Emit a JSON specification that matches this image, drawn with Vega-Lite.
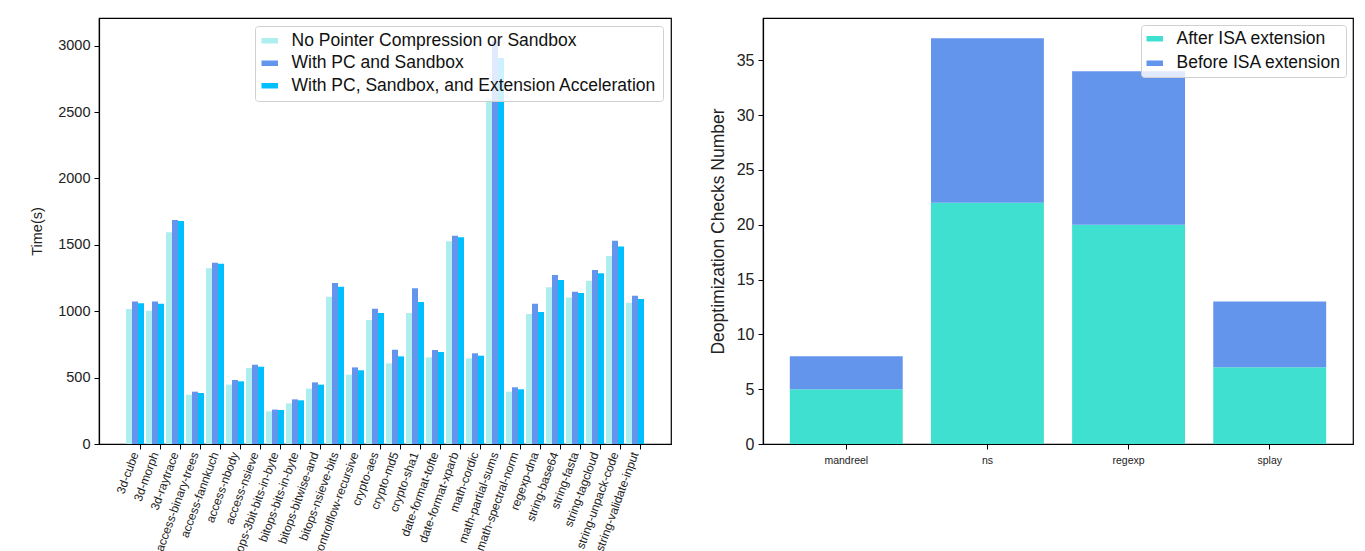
{
  "$schema": "https://vega.github.io/schema/vega-lite/v6.json",
  "padding": {"left": 29, "top": 17, "right": 5, "bottom": 0},
  "background": "white",
  "config": {
    "font": "Liberation Sans",
    "view": {"stroke": "black", "strokeWidth": 1.2},
    "axis": {
      "domainColor": "black", "tickColor": "black", "labelColor": "#222", "titleColor": "#222",
      "titleFontWeight": "normal", "grid": false, "tickSize": 5, "labelPadding": 4, "domainWidth": 1.2
    }
  },
  "resolve": {"scale": {"color": "independent"}, "legend": {"color": "independent"}},
  "bounds": "flush",
  "spacing": 92,
  "hconcat": [
    {
      "width": 572,
      "height": 426,
      "data": {"values": [
        {"b":"3d-cube","s":"No Pointer Compression or Sandbox","v":1017},{"b":"3d-cube","s":"With PC and Sandbox","v":1074},{"b":"3d-cube","s":"With PC, Sandbox, and Extension Acceleration","v":1059},
        {"b":"3d-morph","s":"No Pointer Compression or Sandbox","v":1004},{"b":"3d-morph","s":"With PC and Sandbox","v":1074},{"b":"3d-morph","s":"With PC, Sandbox, and Extension Acceleration","v":1057},
        {"b":"3d-raytrace","s":"No Pointer Compression or Sandbox","v":1594},{"b":"3d-raytrace","s":"With PC and Sandbox","v":1687},{"b":"3d-raytrace","s":"With PC, Sandbox, and Extension Acceleration","v":1679},
        {"b":"access-binary-trees","s":"No Pointer Compression or Sandbox","v":371},{"b":"access-binary-trees","s":"With PC and Sandbox","v":394},{"b":"access-binary-trees","s":"With PC, Sandbox, and Extension Acceleration","v":384},
        {"b":"access-fannkuch","s":"No Pointer Compression or Sandbox","v":1323},{"b":"access-fannkuch","s":"With PC and Sandbox","v":1365},{"b":"access-fannkuch","s":"With PC, Sandbox, and Extension Acceleration","v":1358},
        {"b":"access-nbody","s":"No Pointer Compression or Sandbox","v":447},{"b":"access-nbody","s":"With PC and Sandbox","v":482},{"b":"access-nbody","s":"With PC, Sandbox, and Extension Acceleration","v":472},
        {"b":"access-nsieve","s":"No Pointer Compression or Sandbox","v":572},{"b":"access-nsieve","s":"With PC and Sandbox","v":597},{"b":"access-nsieve","s":"With PC, Sandbox, and Extension Acceleration","v":582},
        {"b":"bitops-3bit-bits-in-byte","s":"No Pointer Compression or Sandbox","v":246},{"b":"bitops-3bit-bits-in-byte","s":"With PC and Sandbox","v":259},{"b":"bitops-3bit-bits-in-byte","s":"With PC, Sandbox, and Extension Acceleration","v":256},
        {"b":"bitops-bits-in-byte","s":"No Pointer Compression or Sandbox","v":306},{"b":"bitops-bits-in-byte","s":"With PC and Sandbox","v":336},{"b":"bitops-bits-in-byte","s":"With PC, Sandbox, and Extension Acceleration","v":329},
        {"b":"bitops-bitwise-and","s":"No Pointer Compression or Sandbox","v":417},{"b":"bitops-bitwise-and","s":"With PC and Sandbox","v":464},{"b":"bitops-bitwise-and","s":"With PC, Sandbox, and Extension Acceleration","v":447},
        {"b":"bitops-nsieve-bits","s":"No Pointer Compression or Sandbox","v":1109},{"b":"bitops-nsieve-bits","s":"With PC and Sandbox","v":1212},{"b":"bitops-nsieve-bits","s":"With PC, Sandbox, and Extension Acceleration","v":1185},
        {"b":"controlflow-recursive","s":"No Pointer Compression or Sandbox","v":522},{"b":"controlflow-recursive","s":"With PC and Sandbox","v":577},{"b":"controlflow-recursive","s":"With PC, Sandbox, and Extension Acceleration","v":555},
        {"b":"crypto-aes","s":"No Pointer Compression or Sandbox","v":934},{"b":"crypto-aes","s":"With PC and Sandbox","v":1019},{"b":"crypto-aes","s":"With PC, Sandbox, and Extension Acceleration","v":986},
        {"b":"crypto-md5","s":"No Pointer Compression or Sandbox","v":607},{"b":"crypto-md5","s":"With PC and Sandbox","v":710},{"b":"crypto-md5","s":"With PC, Sandbox, and Extension Acceleration","v":660},
        {"b":"crypto-sha1","s":"No Pointer Compression or Sandbox","v":986},{"b":"crypto-sha1","s":"With PC and Sandbox","v":1172},{"b":"crypto-sha1","s":"With PC, Sandbox, and Extension Acceleration","v":1069},
        {"b":"date-format-tofte","s":"No Pointer Compression or Sandbox","v":653},{"b":"date-format-tofte","s":"With PC and Sandbox","v":708},{"b":"date-format-tofte","s":"With PC, Sandbox, and Extension Acceleration","v":693},
        {"b":"date-format-xparb","s":"No Pointer Compression or Sandbox","v":1526},{"b":"date-format-xparb","s":"With PC and Sandbox","v":1569},{"b":"date-format-xparb","s":"With PC, Sandbox, and Extension Acceleration","v":1556},
        {"b":"math-cordic","s":"No Pointer Compression or Sandbox","v":645},{"b":"math-cordic","s":"With PC and Sandbox","v":683},{"b":"math-cordic","s":"With PC, Sandbox, and Extension Acceleration","v":665},
        {"b":"math-partial-sums","s":"No Pointer Compression or Sandbox","v":2600},{"b":"math-partial-sums","s":"With PC and Sandbox","v":3037},{"b":"math-partial-sums","s":"With PC, Sandbox, and Extension Acceleration","v":2907},
        {"b":"math-spectral-norm","s":"No Pointer Compression or Sandbox","v":394},{"b":"math-spectral-norm","s":"With PC and Sandbox","v":427},{"b":"math-spectral-norm","s":"With PC, Sandbox, and Extension Acceleration","v":412},
        {"b":"regexp-dna","s":"No Pointer Compression or Sandbox","v":979},{"b":"regexp-dna","s":"With PC and Sandbox","v":1057},{"b":"regexp-dna","s":"With PC, Sandbox, and Extension Acceleration","v":994},
        {"b":"string-base64","s":"No Pointer Compression or Sandbox","v":1180},{"b":"string-base64","s":"With PC and Sandbox","v":1273},{"b":"string-base64","s":"With PC, Sandbox, and Extension Acceleration","v":1235},
        {"b":"string-fasta","s":"No Pointer Compression or Sandbox","v":1104},{"b":"string-fasta","s":"With PC and Sandbox","v":1147},{"b":"string-fasta","s":"With PC, Sandbox, and Extension Acceleration","v":1137},
        {"b":"string-tagcloud","s":"No Pointer Compression or Sandbox","v":1230},{"b":"string-tagcloud","s":"With PC and Sandbox","v":1310},{"b":"string-tagcloud","s":"With PC, Sandbox, and Extension Acceleration","v":1285},
        {"b":"string-unpack-code","s":"No Pointer Compression or Sandbox","v":1416},{"b":"string-unpack-code","s":"With PC and Sandbox","v":1531},{"b":"string-unpack-code","s":"With PC, Sandbox, and Extension Acceleration","v":1488},
        {"b":"string-validate-input","s":"No Pointer Compression or Sandbox","v":1064},{"b":"string-validate-input","s":"With PC and Sandbox","v":1117},{"b":"string-validate-input","s":"With PC, Sandbox, and Extension Acceleration","v":1092}
      ]},
      "mark": {"type": "bar"},
      "encoding": {
        "x": {
          "field": "b", "type": "nominal", "sort": null,
          "scale": {
            "domain": ["pad-start","3d-cube","3d-morph","3d-raytrace","access-binary-trees","access-fannkuch","access-nbody","access-nsieve","bitops-3bit-bits-in-byte","bitops-bits-in-byte","bitops-bitwise-and","bitops-nsieve-bits","controlflow-recursive","crypto-aes","crypto-md5","crypto-sha1","date-format-tofte","date-format-xparb","math-cordic","math-partial-sums","math-spectral-norm","regexp-dna","string-base64","string-fasta","string-tagcloud","string-unpack-code","string-validate-input","pad-end"],
            "paddingInner": 0.1, "paddingOuter": 0.35
          },
          "axis": {
            "title": null, "labelAngle": -70, "bandPosition": 0.833, "labelFontSize": 12, "labelPadding": 3,
            "values": ["3d-cube","3d-morph","3d-raytrace","access-binary-trees","access-fannkuch","access-nbody","access-nsieve","bitops-3bit-bits-in-byte","bitops-bits-in-byte","bitops-bitwise-and","bitops-nsieve-bits","controlflow-recursive","crypto-aes","crypto-md5","crypto-sha1","date-format-tofte","date-format-xparb","math-cordic","math-partial-sums","math-spectral-norm","regexp-dna","string-base64","string-fasta","string-tagcloud","string-unpack-code","string-validate-input"]
          }
        },
        "xOffset": {
          "field": "s", "type": "nominal",
          "sort": ["No Pointer Compression or Sandbox", "With PC and Sandbox", "With PC, Sandbox, and Extension Acceleration"],
          "scale": {"paddingInner": 0, "paddingOuter": 0}
        },
        "y": {
          "field": "v", "type": "quantitative",
          "scale": {"domain": [0, 3208], "nice": false, "zero": true},
          "axis": {"title": "Time(s)", "format": "d", "values": [0, 500, 1000, 1500, 2000, 2500, 3000], "labelFontSize": 14.5, "titleFontSize": 14.5, "titlePadding": 13}
        },
        "color": {
          "field": "s", "type": "nominal",
          "scale": {
            "domain": ["No Pointer Compression or Sandbox", "With PC and Sandbox", "With PC, Sandbox, and Extension Acceleration"],
            "range": ["#AFEEEE", "#6495ED", "#00BFFF"]
          },
          "legend": {
            "title": null, "orient": "top-right", "offset": 8,
            "fillColor": "rgba(255,255,255,0.8)", "strokeColor": "#d0d0d0", "cornerRadius": 3, "padding": 6,
            "symbolType": "M-1.5,-0.5H1.5V0.5H-1.5Z", "symbolSize": 121, "symbolStrokeWidth": 0, "symbolOpacity": 1,
            "labelFontSize": 17.5, "labelColor": "#111", "labelOffset": 13, "rowPadding": 3.5, "labelLimit": 600
          }
        }
      }
    },
    {
      "width": 590,
      "height": 426,
      "data": {"values": [
        {"b":"mandreel","t":"After ISA extension","o":1,"v":5},{"b":"mandreel","t":"Before ISA extension","o":2,"v":3},
        {"b":"ns","t":"After ISA extension","o":1,"v":22},{"b":"ns","t":"Before ISA extension","o":2,"v":15},
        {"b":"regexp","t":"After ISA extension","o":1,"v":20},{"b":"regexp","t":"Before ISA extension","o":2,"v":14},
        {"b":"splay","t":"After ISA extension","o":1,"v":7},{"b":"splay","t":"Before ISA extension","o":2,"v":6}
      ]},
      "mark": {"type": "bar"},
      "encoding": {
        "x": {
          "field": "b", "type": "nominal", "sort": null,
          "scale": {"paddingInner": 0.2, "paddingOuter": 0.19},
          "axis": {"title": null, "labelAngle": 0, "labelFontSize": 10.5, "labelPadding": 6}
        },
        "y": {
          "field": "v", "type": "quantitative", "stack": "zero",
          "scale": {"domain": [0, 38.85], "nice": false},
          "axis": {"title": "Deoptimization Checks Number", "values": [0, 5, 10, 15, 20, 25, 30, 35], "labelFontSize": 16, "titleFontSize": 17.5, "titlePadding": 9}
        },
        "order": {"field": "o", "type": "quantitative"},
        "color": {
          "field": "t", "type": "nominal",
          "scale": {"domain": ["After ISA extension", "Before ISA extension"], "range": ["#40E0D0", "#6495ED"]},
          "legend": {
            "title": null, "orient": "top-right", "offset": 7,
            "fillColor": "rgba(255,255,255,0.8)", "strokeColor": "#d0d0d0", "cornerRadius": 3, "padding": 5,
            "symbolType": "M-1.5,-0.5H1.5V0.5H-1.5Z", "symbolSize": 121, "symbolStrokeWidth": 0, "symbolOpacity": 1,
            "labelFontSize": 17.5, "labelColor": "#111", "labelOffset": 13, "rowPadding": 5.5, "labelLimit": 600
          }
        }
      }
    }
  ]
}
